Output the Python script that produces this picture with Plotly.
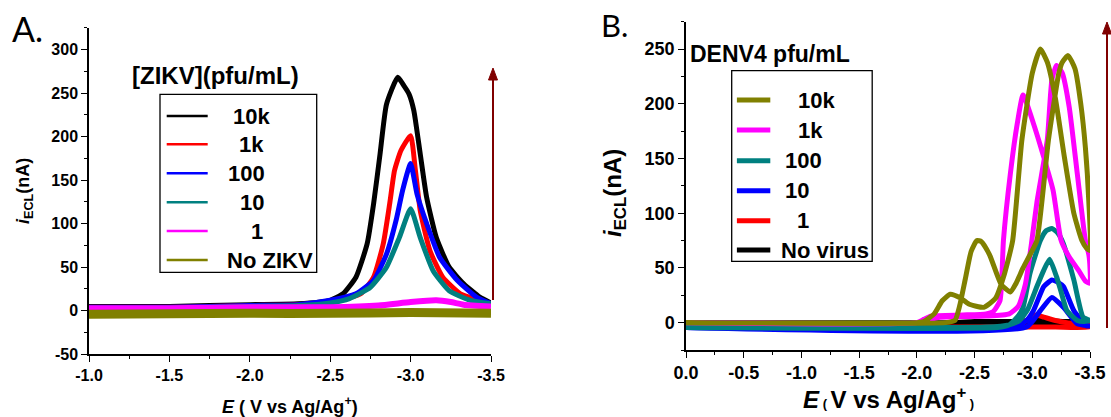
import plotly.graph_objects as go

W, H = 1111, 417

# ---------------- Panel A data (ZIKV) ----------------
A_names = ["10k", "1k", "100", "10", "1", "No ZIKV"]
A_colors = ["#000000", "#FF0000", "#0000FF", "#008080", "#FF00FF", "#808000"]

A_E_10k = [-1.0, -1.5, -2.0, -2.3, -2.5, -2.58, -2.66, -2.73, -2.77, -2.81, -2.85, -2.92, -2.96, -2.99, -3.02, -3.06, -3.10, -3.16, -3.24, -3.33, -3.43, -3.5]
A_i_10k = [5, 5, 7, 8, 12, 19.5, 38.5, 77, 123, 180, 237, 268, 258, 249, 230, 180, 130, 84, 50, 31, 15.6, 9]

A_E_1k = [-1.0, -1.5, -2.0, -2.3, -2.56, -2.69, -2.77, -2.83, -2.87, -2.90, -2.94, -3.0, -3.03, -3.06, -3.12, -3.20, -3.31, -3.43, -3.5]
A_i_1k = [4, 4, 6, 7, 12, 19.5, 38.5, 77, 123, 161, 184, 201, 161, 115, 69, 38.5, 19.5, 12, 8]

A_E_100 = [-1.0, -1.5, -2.0, -2.3, -2.5, -2.66, -2.77, -2.85, -2.91, -2.95, -3.0, -3.04, -3.10, -3.18, -3.29, -3.41, -3.5]
A_i_100 = [4, 4, 6, 7, 12, 19.5, 35, 65, 104, 138, 169, 134, 100, 61.5, 35, 15.6, 8]

A_E_10 = [-1.0, -1.5, -2.0, -2.3, -2.5, -2.62, -2.75, -2.85, -2.93, -3.0, -3.06, -3.14, -3.24, -3.37, -3.5]
A_i_10 = [3, 3, 5, 6, 9, 14, 27, 50, 84, 117, 84, 46, 23, 12, 8]

A_E_1 = [-1.0, -1.5, -2.0, -2.5, -2.8, -3.0, -3.16, -3.25, -3.33, -3.5]
A_i_1 = [3, 3, 4, 4, 6, 10, 12, 10, 7, 5]

A_E_none = [-1.0, -2.0, -2.5, -3.0, -3.5]
A_i_none = [-4, -3, -3, -2, -3]

A_xticks = [-1.0, -1.5, -2.0, -2.5, -3.0, -3.5]
A_xticklabels = ["-1.0", "-1.5", "-2.0", "-2.5", "-3.0", "-3.5"]
A_yticks = [-50, 0, 50, 100, 150, 200, 250, 300]
A_yticklabels = ["-50", "0", "50", "100", "150", "200", "250", "300"]

# ---------------- Panel B data (DENV4) ----------------
B_names = ["10k", "1k", "100", "10", "1", "No virus"]
B_colors = ["#808000", "#FF00FF", "#008080", "#0000FF", "#FF0000", "#000000"]

B_E_10k = [0.0, -2.0, -2.06, -2.15, -2.22, -2.29, -2.37, -2.45, -2.58, -2.68, -2.76, -2.83, -2.91, -3.0, -3.07, -3.13, -3.20, -3.28, -3.36, -3.43, -3.47, -3.5,
           -3.49, -3.46, -3.42, -3.37, -3.31, -3.26, -3.23, -3.14, -3.04, -2.98, -2.92, -2.86, -2.81, -2.73, -2.63, -2.56, -2.52, -2.47, -2.42, -2.37, -2.33, -2.25, 0.0]
B_i_10k = [0, 0, 1, 8, 20, 26, 23, 17, 14, 22, 45, 75, 167, 228, 250, 238, 205, 150, 100, 75, 68, 66,
           110, 160, 200, 232, 244, 238, 228, 167, 75, 62, 50, 36, 28, 35, 62, 74, 75, 65, 40, 15, 2, 0, 0]

B_E_1k = [0.0, -2.0, -2.06, -2.12, -2.4, -2.6, -2.66, -2.72, -2.75, -2.81, -2.87, -2.92, -3.01, -3.10, -3.18, -3.25, -3.32, -3.40, -3.46, -3.5,
          -3.5, -3.49, -3.46, -3.39, -3.32, -3.26, -3.21, -3.17, -3.13, -3.04, -2.99, -2.94, -2.88, -2.8, -2.6, -2.2, -2.08, -2.0, 0.0]
B_i_1k = [0, 0, 3, 6, 7, 8, 10, 20, 75, 136, 182, 208, 182, 151, 121, 75, 60, 48, 38, 36,
          50, 62, 75, 136, 197, 228, 235, 222, 167, 110, 70, 35, 15, 8, 6, 5, 2, 0, 0]

B_E_100 = [0.0, -2.7, -2.8, -2.87, -2.92, -2.98, -3.07, -3.12, -3.17, -3.22, -3.27, -3.36, -3.44, -3.5,
           -3.45, -3.39, -3.30, -3.25, -3.21, -3.15, -3.10, -3.04, -2.96, -2.89, -2.8, -2.6, 0.0]
B_i_100 = [-4.5, -4.5, -2, 5, 14, 45, 75, 84, 86, 82, 72, 39, 5, 2,
           1, 2, 11, 28, 42, 58, 48, 33, 12, 2, -2, -4, -4.5]

B_E_10 = [0.0, -2.85, -2.95, -3.01, -3.10, -3.17, -3.22, -3.27, -3.36, -3.47, -3.5,
          -3.39, -3.27, -3.17, -3.07, -2.95, 0.0]
B_i_10 = [-4.5, -4.5, 2, 11, 33, 39, 37, 33, 11, -3, -3,
          -1, 14, 23, 11, -4, -4.5]

B_E_1 = [0.0, -2.85, -2.95, -3.03, -3.1, -3.2, -3.3, -3.4, -3.5, -3.5, -3.2, -2.9, 0.0]
B_i_1 = [-4, -4, 2, 7, 5, 2, 0, -1, -2, -4, -4, -4, -4]

B_E_none = [0.0, -2.3, -2.5, -2.8, -3.0, -3.1, -3.3, -3.5, -3.5, -3.0, 0.0]
B_i_none = [0, 0, 1, 1, 2, 2, 1, 1, -1, -1, -1]

B_xticks = [0.0, -0.5, -1.0, -1.5, -2.0, -2.5, -3.0, -3.5]
B_xticklabels = ["0.0", "-0.5", "-1.0", "-1.5", "-2.0", "-2.5", "-3.0", "-3.5"]
B_yticks = [0, 50, 100, 150, 200, 250]
B_yticklabels = ["0", "50", "100", "150", "200", "250"]

FONT = "Liberation Sans"
ARROW = "#800000"


def px(x):
    return x / W


def py(y):
    return 1 - y / H


def bold(labels):
    return ["<b>%s</b>" % t for t in labels]


fig = go.Figure()

# Panel A traces (drawing order: black, red, blue, teal, magenta, olive)
A_data = [(A_E_10k, A_i_10k), (A_E_1k, A_i_1k), (A_E_100, A_i_100), (A_E_10, A_i_10), (A_E_1, A_i_1), (A_E_none, A_i_none)]
A_widths = [5, 5, 5, 5, 6, 9]
for (ex, iy), name, col, w in zip(A_data, A_names, A_colors, A_widths):
    fig.add_trace(go.Scatter(x=ex, y=iy, mode="lines", name=name, showlegend=False,
                             line=dict(color=col, width=w, shape="spline", smoothing=0.5),
                             xaxis="x", yaxis="y"))

# Panel B traces
B_data = {"10k": (B_E_10k, B_i_10k), "1k": (B_E_1k, B_i_1k), "100": (B_E_100, B_i_100),
          "10": (B_E_10, B_i_10), "1": (B_E_1, B_i_1), "No virus": (B_E_none, B_i_none)}
B_color_map = dict(zip(B_names, B_colors))
for name in ["No virus", "1", "10", "100", "1k", "10k"]:
    ex, iy = B_data[name]
    fig.add_trace(go.Scatter(x=ex, y=iy, mode="lines", name=name, showlegend=False,
                             line=dict(color=B_color_map[name], width=5, shape="spline", smoothing=0.5),
                             xaxis="x2", yaxis="y2"))

axis_common = dict(showline=True, linecolor="black", linewidth=1.5, ticks="outside", ticklen=6,
                   tickwidth=1.3, tickcolor="black", showgrid=False, zeroline=False, mirror=False,
                   automargin=False)
minor_x = dict(tickmode="linear", tick0=0, dtick=0.25, ticklen=3, tickcolor="black", ticks="outside")
minor_y = dict(tickmode="linear", tick0=0, dtick=25, ticklen=3, tickcolor="black", ticks="outside")

fig.update_layout(
    template="none",
    width=W, height=H, autosize=False, margin=dict(l=0, r=0, t=0, b=0, pad=0),
    paper_bgcolor="white", plot_bgcolor="white",
    font=dict(family=FONT, color="black"),
    xaxis=dict(domain=[px(89), px(491)], range=[-1.0, -3.5], tickmode="array",
               tickvals=A_xticks, ticktext=bold(A_xticklabels), anchor="y",
               tickfont=dict(size=16, family=FONT, color="black", weight="bold"), minor=minor_x, **axis_common),
    yaxis=dict(domain=[py(354.3), py(27.7)], range=[-50, 325], tickmode="array",
               tickvals=A_yticks, ticktext=bold(A_yticklabels), anchor="x",
               tickfont=dict(size=16, family=FONT, color="black", weight="bold"), minor=minor_y, **axis_common),
    xaxis2=dict(domain=[px(686), px(1090)], range=[0.0, -3.5], tickmode="array",
                tickvals=B_xticks, ticktext=bold(B_xticklabels), anchor="y2",
                tickfont=dict(size=18, family=FONT, color="black", weight="bold"), minor=minor_x, **axis_common),
    yaxis2=dict(domain=[py(350), py(21.7)], range=[-25, 275], tickmode="array",
                tickvals=B_yticks, ticktext=bold(B_yticklabels), anchor="x2",
                tickfont=dict(size=18, family=FONT, color="black", weight="bold"), minor=minor_y, **axis_common),
)

ann = []
shapes = []

# Panel labels
ann.append(dict(text="A.", x=px(10), y=py(28), xanchor="left", yanchor="middle", showarrow=False,
                font=dict(size=34, family="Lato", color="black")))
ann.append(dict(text="B.", x=px(599), y=py(25), xanchor="left", yanchor="middle", showarrow=False,
                font=dict(size=31, family="Lato", color="black")))

# Axis titles
ann.append(dict(text="<b><i>i</i><sub>ECL</sub>(nA)</b>", x=px(24), y=py(191), xanchor="center", yanchor="middle",
                textangle=-90, showarrow=False, font=dict(size=18, family=FONT, color="black")))
ann.append(dict(text="<b><i>i</i><sub>ECL</sub>(nA)</b>", x=px(614), y=py(193), xanchor="center", yanchor="middle",
                textangle=-90, showarrow=False, font=dict(size=24, family=FONT, color="black")))
ann.append(dict(text="<b><i>E</i> ( V vs Ag/Ag<sup>+</sup>)</b>", x=px(290), y=py(405), xanchor="center", yanchor="middle",
                showarrow=False, font=dict(size=18, family=FONT, color="black")))
ann.append(dict(text="<b><i>E</i></b><span style='font-size:13px'><b> ( </b></span><b>V vs Ag/Ag<sup>+</sup></b><span style='font-size:13px'><b> )</b></span>",
                x=px(888), y=py(398), xanchor="center", yanchor="middle",
                showarrow=False, font=dict(size=24, family=FONT, color="black")))


# Arrows (drawn as shapes: shaft + filled head)
def arrow(x, y_top, y_bottom):
    shapes.append(dict(type="line", xref="paper", yref="paper", x0=px(x), x1=px(x), y0=py(y_bottom), y1=py(y_top + 8),
                       line=dict(color=ARROW, width=2)))
    shapes.append(dict(type="path", xref="paper", yref="paper",
                       path="M %f %f L %f %f L %f %f Z" % (px(x - 4.5), py(y_top + 12), px(x), py(y_top), px(x + 4.5), py(y_top + 12)),
                       fillcolor=ARROW, line=dict(color=ARROW, width=1)))


arrow(493, 68, 300)
arrow(1107, 22, 328)

# Legend A
ann.append(dict(text="<b>[ZIKV](pfu/mL)</b>", x=px(215), y=py(75), xanchor="center", yanchor="middle",
                showarrow=False, font=dict(size=24, family=FONT, color="black")))
shapes.append(dict(type="rect", xref="paper", yref="paper", x0=px(160), x1=px(316.7), y0=py(272.3), y1=py(94.3),
                   line=dict(color="black", width=1.3), fillcolor="rgba(0,0,0,0)"))
A_leg_y = [116, 144.3, 173.3, 202.3, 231, 260]
A_leg_tx = [251.7, 251.7, 246.7, 251.7, 256.7, 270]
for yy, tx, name, col in zip(A_leg_y, A_leg_tx, A_names, A_colors):
    shapes.append(dict(type="line", xref="paper", yref="paper", x0=px(166.7), x1=px(207.7), y0=py(yy), y1=py(yy),
                       line=dict(color=col, width=2.5)))
    ann.append(dict(text="<b>%s</b>" % name, x=px(tx), y=py(yy), xanchor="center", yanchor="middle",
                    showarrow=False, font=dict(size=22, family=FONT, color="black")))

# Legend B
ann.append(dict(text="<b>DENV4 pfu/mL</b>", x=px(688), y=py(54), xanchor="left", yanchor="middle",
                showarrow=False, font=dict(size=23, family=FONT, color="black")))
shapes.append(dict(type="rect", xref="paper", yref="paper", x0=px(731.7), x1=px(872.2), y0=py(261.3), y1=py(70.7),
                   line=dict(color="black", width=1.3), fillcolor="rgba(0,0,0,0)"))
B_leg_y = [100, 130, 160.7, 190.7, 220.7, 250]
B_leg_tx = [816.7, 810, 803.7, 797.4, 803, 824.6]
for yy, tx, name, col in zip(B_leg_y, B_leg_tx, B_names, B_colors):
    shapes.append(dict(type="line", xref="paper", yref="paper", x0=px(736.9), x1=px(770.3), y0=py(yy), y1=py(yy),
                       line=dict(color=col, width=5)))
    ann.append(dict(text="<b>%s</b>" % name, x=px(tx), y=py(yy), xanchor="center", yanchor="middle",
                    showarrow=False, font=dict(size=22, family=FONT, color="black")))

for a in ann:
    a.setdefault("xref", "paper")
    a.setdefault("yref", "paper")

fig.update_layout(annotations=ann, shapes=shapes)

# remove the default 8px page margin so the 1111x417 figure fills the window exactly
fig.write_html("out.html", config={"displayModeBar": False, "responsive": False},
               post_script="document.body.style.margin='0px';document.body.style.overflow='hidden';")
